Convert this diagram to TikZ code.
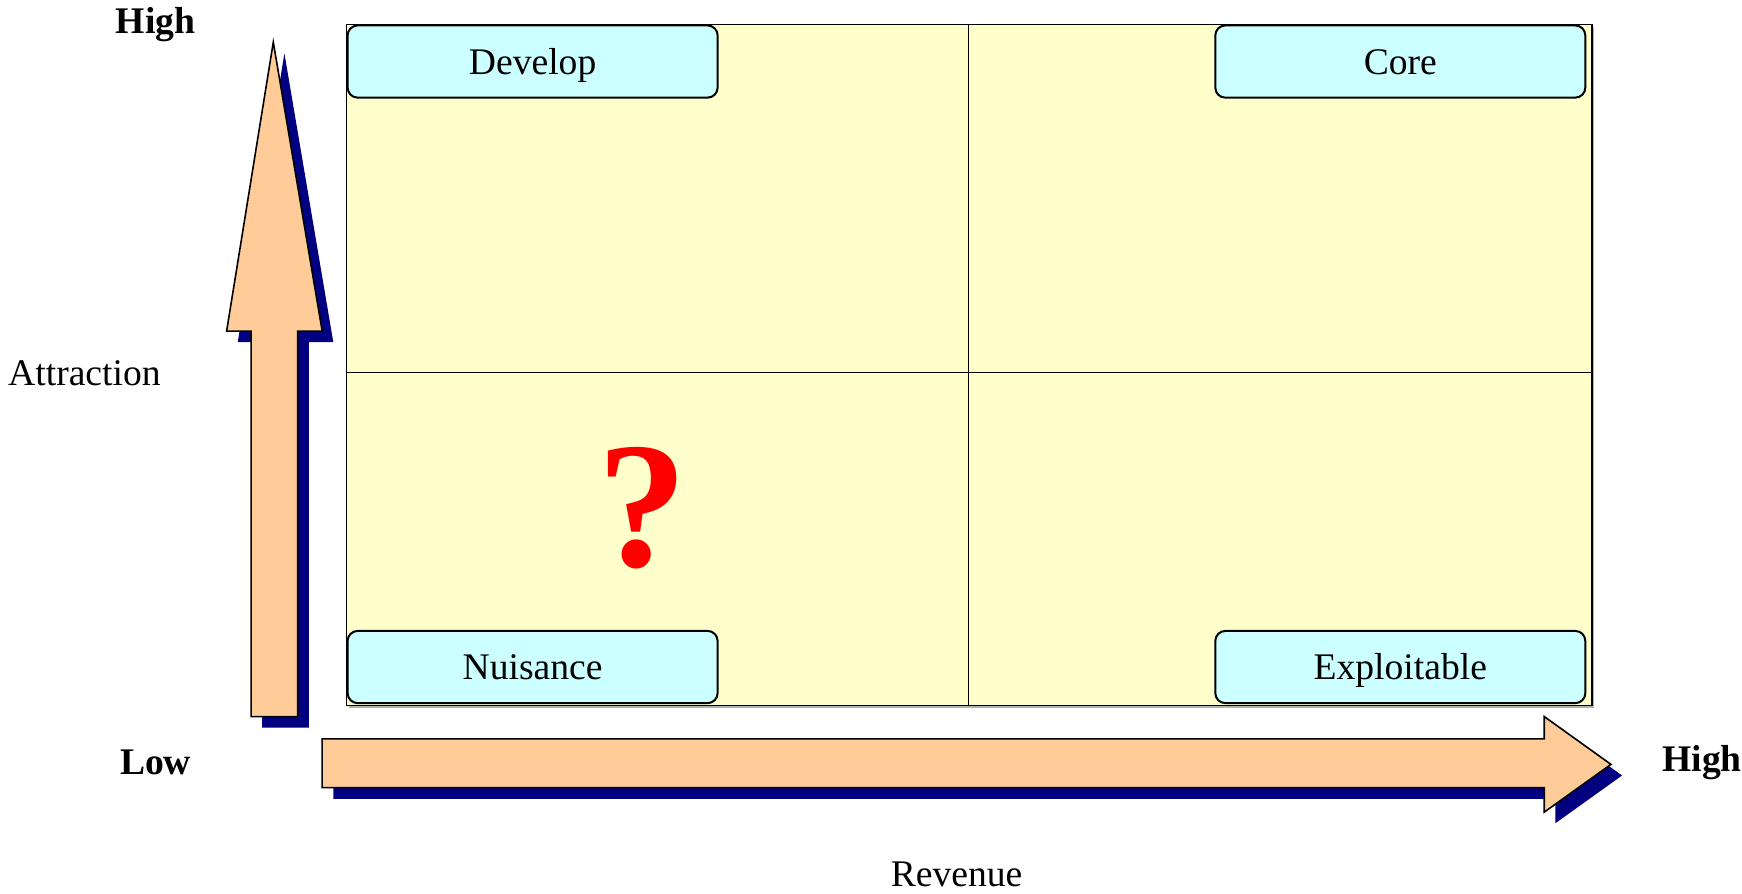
\documentclass[tikz,border=0pt]{standalone}
\usepackage{fontspec}
\setmainfont{Liberation Serif}
\definecolor{paneyellow}{HTML}{FFFFCC}
\definecolor{tagcyan}{HTML}{CCFFFF}
\definecolor{arrowpeach}{HTML}{FFCC99}
\definecolor{shadownavy}{HTML}{000080}
\begin{document}
\begin{tikzpicture}[x=0.5555pt,y=-0.5555pt,
  tag/.style={draw=black, line width=1pt, rounded corners=5pt, fill=tagcyan,
    minimum width=185pt, minimum height=36.1pt, inner sep=0pt,
    text height=15pt, text depth=2.2pt,
    font=\fontsize{18.8}{22}\selectfont},
  axislabel/.style={font=\fontsize{18.8}{22}\selectfont\bfseries, inner sep=0pt},
  plainlabel/.style={font=\fontsize{18.8}{22}\selectfont, inner sep=0pt},
  bigarrow/.style={draw=black, line width=0.8pt, fill=arrowpeach, line join=miter},
  arrowshadow/.style={fill=shadownavy}]
\useasboundingbox (0,0) rectangle (1568,804);

% quadrant panel
\fill[gray!60] (314,24) rectangle (1435,637);
\draw[fill=paneyellow, line width=0.6pt] (312,22) rectangle (1433,635);
\draw[line width=0.6pt] (872,22) -- (872,635);
\draw[line width=0.6pt] (312,335) -- (1433,335);

% quadrant tags
\node[tag, anchor=north west] (develop) at (312,22) {Develop};
\node[tag, anchor=north west] (core) at (1093,22) {Core};
\node[tag, anchor=north west] (nuisance) at (312,567) {Nuisance};
\node[tag, anchor=north west] (exploit) at (1093,567) {Exploitable};

% question mark
\node[text=red, font=\fontsize{90}{90}\selectfont\bfseries, inner sep=0pt] (qmark) at (578,457) {?};

% vertical axis arrow with shadow
\fill[arrowshadow, shift={(10,10)}]
  (246,38) -- (290,298) -- (268,298) -- (268,645) -- (226,645) -- (226,298) -- (204,298) -- cycle;
\draw[bigarrow]
  (246,38) -- (290,298) -- (268,298) -- (268,645) -- (226,645) -- (226,298) -- (204,298) -- cycle;

% horizontal axis arrow with shadow
\fill[arrowshadow, shift={(10,10)}]
  (290,665) -- (1390,665) -- (1390,645) -- (1450,688) -- (1390,731) -- (1390,709) -- (290,709) -- cycle;
\draw[bigarrow]
  (290,665) -- (1390,665) -- (1390,645) -- (1450,688) -- (1390,731) -- (1390,709) -- (290,709) -- cycle;

% axis labels
\node[axislabel] (yhigh) at (140,22) {High};
\node[axislabel] (ylow) at (140,686) {Low};
\node[axislabel] (xhigh) at (1532,686) {High};
\node[plainlabel] (ytitle) at (76,336) {Attraction};
\node[plainlabel] (xtitle) at (861,787) {Revenue};
\end{tikzpicture}
\end{document}
